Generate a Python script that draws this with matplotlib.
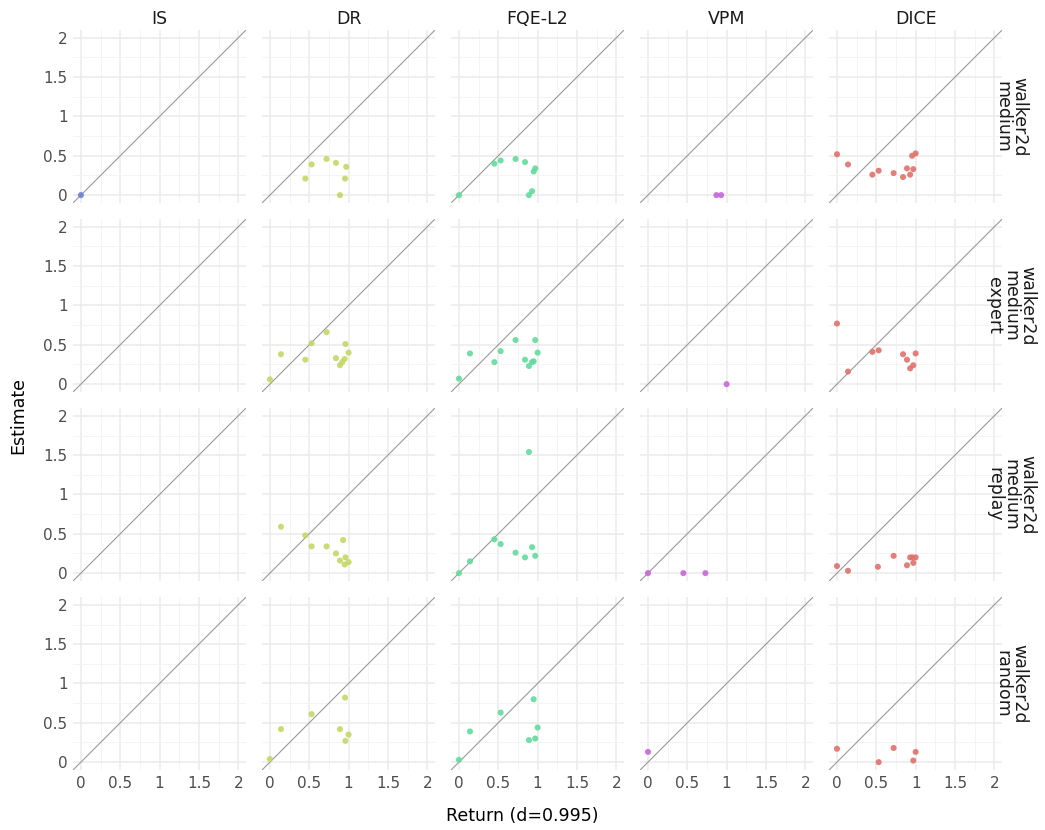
import numpy as np
import matplotlib
matplotlib.use("Agg")
import matplotlib.pyplot as plt
from matplotlib.ticker import MultipleLocator

methods = ["IS", "DR", "FQE-L2", "VPM", "DICE"]
datasets = ["walker2d\nmedium", "walker2d\nmedium\nexpert", "walker2d\nmedium\nreplay", "walker2d\nrandom"]
colors = {"IS": "#6b7fd6", "DR": "#c3d764", "FQE-L2": "#62db9c", "VPM": "#c766d9", "DICE": "#e0716c"}

# (return, estimate) pairs per dataset / method
medium_ret = {
    "IS": [0.0],
    "DR": [0.45, 0.53, 0.72, 0.84, 0.97, 0.955, 0.89],
    "FQE-L2": [0.0, 0.45, 0.53, 0.72, 0.84, 0.97, 0.95, 0.93, 0.89],
    "VPM": [0.87, 0.93],
    "DICE": [0.0, 0.14, 0.45, 0.53, 0.72, 0.84, 0.89, 0.93, 0.97, 0.955, 1.0],
}
medium_est = {
    "IS": [0.0],
    "DR": [0.21, 0.39, 0.46, 0.41, 0.36, 0.21, 0.0],
    "FQE-L2": [0.0, 0.40, 0.44, 0.46, 0.42, 0.34, 0.30, 0.05, 0.0],
    "VPM": [0.0, 0.0],
    "DICE": [0.52, 0.39, 0.26, 0.31, 0.28, 0.23, 0.34, 0.26, 0.33, 0.50, 0.53],
}
expert_ret = {
    "IS": [],
    "DR": [0.0, 0.14, 0.45, 0.53, 0.72, 0.84, 0.96, 1.0, 0.95, 0.92, 0.89],
    "FQE-L2": [0.0, 0.14, 0.45, 0.53, 0.72, 0.84, 0.97, 1.0, 0.95, 0.93, 0.89],
    "VPM": [1.0],
    "DICE": [0.0, 0.14, 0.45, 0.53, 0.84, 0.89, 1.0, 0.97, 0.93],
}
expert_est = {
    "IS": [],
    "DR": [0.06, 0.38, 0.31, 0.52, 0.66, 0.33, 0.51, 0.40, 0.32, 0.28, 0.24],
    "FQE-L2": [0.07, 0.39, 0.28, 0.42, 0.56, 0.31, 0.56, 0.40, 0.29, 0.28, 0.23],
    "VPM": [0.0],
    "DICE": [0.77, 0.16, 0.41, 0.43, 0.38, 0.31, 0.39, 0.24, 0.20],
}
replay_ret = {
    "IS": [],
    "DR": [0.14, 0.45, 0.53, 0.72, 0.93, 0.84, 0.96, 0.89, 1.0, 0.95],
    "FQE-L2": [0.89, 0.0, 0.14, 0.45, 0.53, 0.72, 0.84, 0.93, 0.97],
    "VPM": [0.0, 0.45, 0.73],
    "DICE": [0.0, 0.14, 0.52, 0.72, 0.89, 0.93, 0.96, 1.0, 0.97],
}
replay_est = {
    "IS": [],
    "DR": [0.59, 0.48, 0.34, 0.34, 0.42, 0.25, 0.20, 0.16, 0.14, 0.11],
    "FQE-L2": [1.54, 0.0, 0.15, 0.43, 0.37, 0.26, 0.20, 0.33, 0.22],
    "VPM": [0.0, 0.0, 0.0],
    "DICE": [0.09, 0.03, 0.08, 0.22, 0.10, 0.20, 0.20, 0.20, 0.13],
}
random_ret = {
    "IS": [],
    "DR": [0.0, 0.14, 0.53, 0.89, 0.955, 1.0, 0.96],
    "FQE-L2": [0.0, 0.14, 0.53, 0.95, 1.0, 0.89, 0.97],
    "VPM": [0.0],
    "DICE": [0.0, 0.53, 0.72, 0.97, 1.0],
}
random_est = {
    "IS": [],
    "DR": [0.04, 0.42, 0.61, 0.42, 0.82, 0.35, 0.27],
    "FQE-L2": [0.03, 0.39, 0.63, 0.80, 0.44, 0.28, 0.30],
    "VPM": [0.13],
    "DICE": [0.17, 0.0, 0.18, 0.02, 0.13],
}

rets = [medium_ret, expert_ret, replay_ret, random_ret]
ests = [medium_est, expert_est, replay_est, random_est]
ticks = [0, 0.5, 1, 1.5, 2]
tick_labels = ["0", "0.5", "1", "1.5", "2"]

fig, axes = plt.subplots(4, 5, figsize=(10.45, 8.3), dpi=100, sharex=True, sharey=True)
plt.subplots_adjust(left=0.0699, right=0.959, top=0.9639, bottom=0.0723, wspace=0.0925, hspace=0.0925)

for i in range(4):
    for j, m in enumerate(methods):
        ax = axes[i][j]
        ax.set_xlim(-0.1, 2.1)
        ax.set_ylim(-0.1, 2.1)
        for s in ax.spines.values():
            s.set_visible(False)
        ax.xaxis.set_major_locator(MultipleLocator(0.5))
        ax.yaxis.set_major_locator(MultipleLocator(0.5))
        ax.xaxis.set_minor_locator(MultipleLocator(0.25))
        ax.yaxis.set_minor_locator(MultipleLocator(0.25))
        ax.grid(which="major", color="#ebebeb", linewidth=1.1)
        ax.grid(which="minor", color="#f3f3f3", linewidth=0.6)
        ax.set_axisbelow(True)
        ax.tick_params(which="both", length=0, labelsize=11, labelcolor="#4d4d4d", pad=4)
        ax.plot([-0.1, 2.1], [-0.1, 2.1], color="#999999", linewidth=0.8, zorder=2)
        ax.scatter(rets[i][m], ests[i][m], s=19, color=colors[m], alpha=0.9, edgecolors="none", zorder=3)
        if i == 0:
            ax.set_title(m, fontsize=12.5, color="#1a1a1a", pad=4)
        if j == 4:
            ax.text(1.05, 0.5, datasets[i], transform=ax.transAxes, rotation=270,
                    ha="center", va="center", fontsize=12.5, color="#1a1a1a",
                    linespacing=0.9, multialignment="center")
        ax.set_xticks(ticks)
        ax.set_xticklabels(tick_labels)
        ax.set_yticks(ticks)
        ax.set_yticklabels(tick_labels)

fig.text(0.5, 0.006, "Return (d=0.995)", ha="center", va="bottom", fontsize=12.5)
fig.text(0.009, 0.5, "Estimate", rotation=90, ha="left", va="center", fontsize=12.5)

fig.savefig("out.png", dpi=100, facecolor="white")
